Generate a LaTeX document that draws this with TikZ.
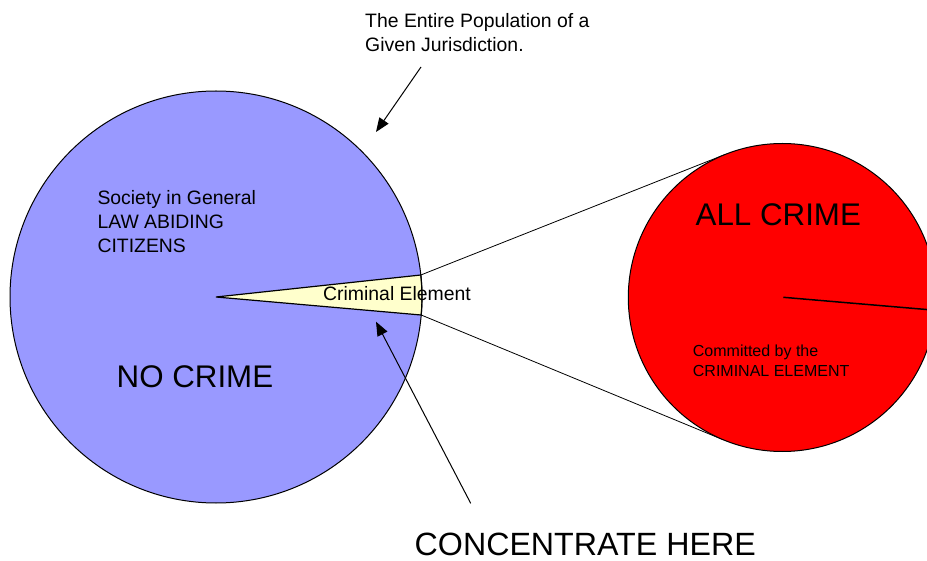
\documentclass[tikz,border=0pt]{standalone}
\usepackage{fontspec}
\setmainfont{Liberation Sans}
\usetikzlibrary{arrows.meta}
\definecolor{popblue}{HTML}{9999FF}
\definecolor{crimyellow}{HTML}{FFFFCC}
\definecolor{crimred}{HTML}{FF0000}
\begin{document}
\begin{tikzpicture}[x=1pt,y=-1pt,
  lbl/.style={inner sep=0pt, anchor=base west, align=left},
  smalltext/.style={font=\fontsize{19.4}{24}\selectfont},
  bigtext/.style={font=\fontsize{31.3}{36}\selectfont},
  redtext/.style={font=\fontsize{16}{20}\selectfont},
  outline/.style={draw=black, line width=1pt},
  thinline/.style={line width=0.8pt},
  pointer/.style={line width=1pt, -{Triangle[length=14pt,width=11pt]}}]
\useasboundingbox (0,0) rectangle (927,561);
\clip (0,0) rectangle (927,561);

% population circle
\coordinate (popc) at (216,297);
\fill[popblue] (popc) circle[radius=206];

% criminal element wedge
\coordinate (wtop) at (420.8,275.0);
\coordinate (wbot) at (421.2,315.0);
\filldraw[fill=crimyellow, draw=black, line width=1.2pt, line join=miter]
  (popc) -- (wtop) arc[start angle=-6.13, end angle=5.02, radius=206] -- cycle;

\draw[outline] (popc) circle[radius=206];

% all crime circle
\coordinate (redc) at (782.3,297.5);
\coordinate (ttop) at (725.6,154.3);
\coordinate (tbot) at (723.5,439.9);
\coordinate (redrim) at (935.8,310.3);
\draw[thinline] (wtop) -- (ttop);
\draw[thinline] (wbot) -- (tbot);
\filldraw[fill=crimred, outline] (redc) circle[radius=154];
\draw[line width=1.5pt] (783.3,297.3) -- (redrim);

% texts
\node[lbl, smalltext] (popl1) at (365,28) {The Entire Population of a};
\node[lbl, smalltext] (popl2) at (365,51.5) {Given Jurisdiction.};
\node[lbl, smalltext] (soc1) at (97.3,204.5) {Society in General};
\node[lbl, smalltext] (soc2) at (97.3,228.5) {LAW ABIDING};
\node[lbl, smalltext] (soc3) at (97.3,252.5) {CITIZENS};
\node[lbl, bigtext] (nocrime) at (116.5,388) {NO CRIME};
\node[lbl, smalltext] (crimel) at (323,301) {Criminal Element};
\node[lbl, bigtext] (allcrime) at (695.5,225.5) {ALL CRIME};
\node[lbl, redtext] (comm1) at (692.7,356.5) {Committed by the};
\node[lbl, redtext] (comm2) at (692.7,376.5) {CRIMINAL ELEMENT};
\node[lbl, font=\fontsize{32.2}{37}\selectfont] (conc) at (414.5,555) {CONCENTRATE HERE};

% arrows
\coordinate (a1s) at (421,67);
\coordinate (a1e) at (376,132);
\coordinate (a2s) at (470.7,503.3);
\coordinate (a2e) at (376,321.7);
\draw[pointer] (a1s) -- (a1e);
\draw[pointer] (a2s) -- (a2e);
\end{tikzpicture}
\end{document}
